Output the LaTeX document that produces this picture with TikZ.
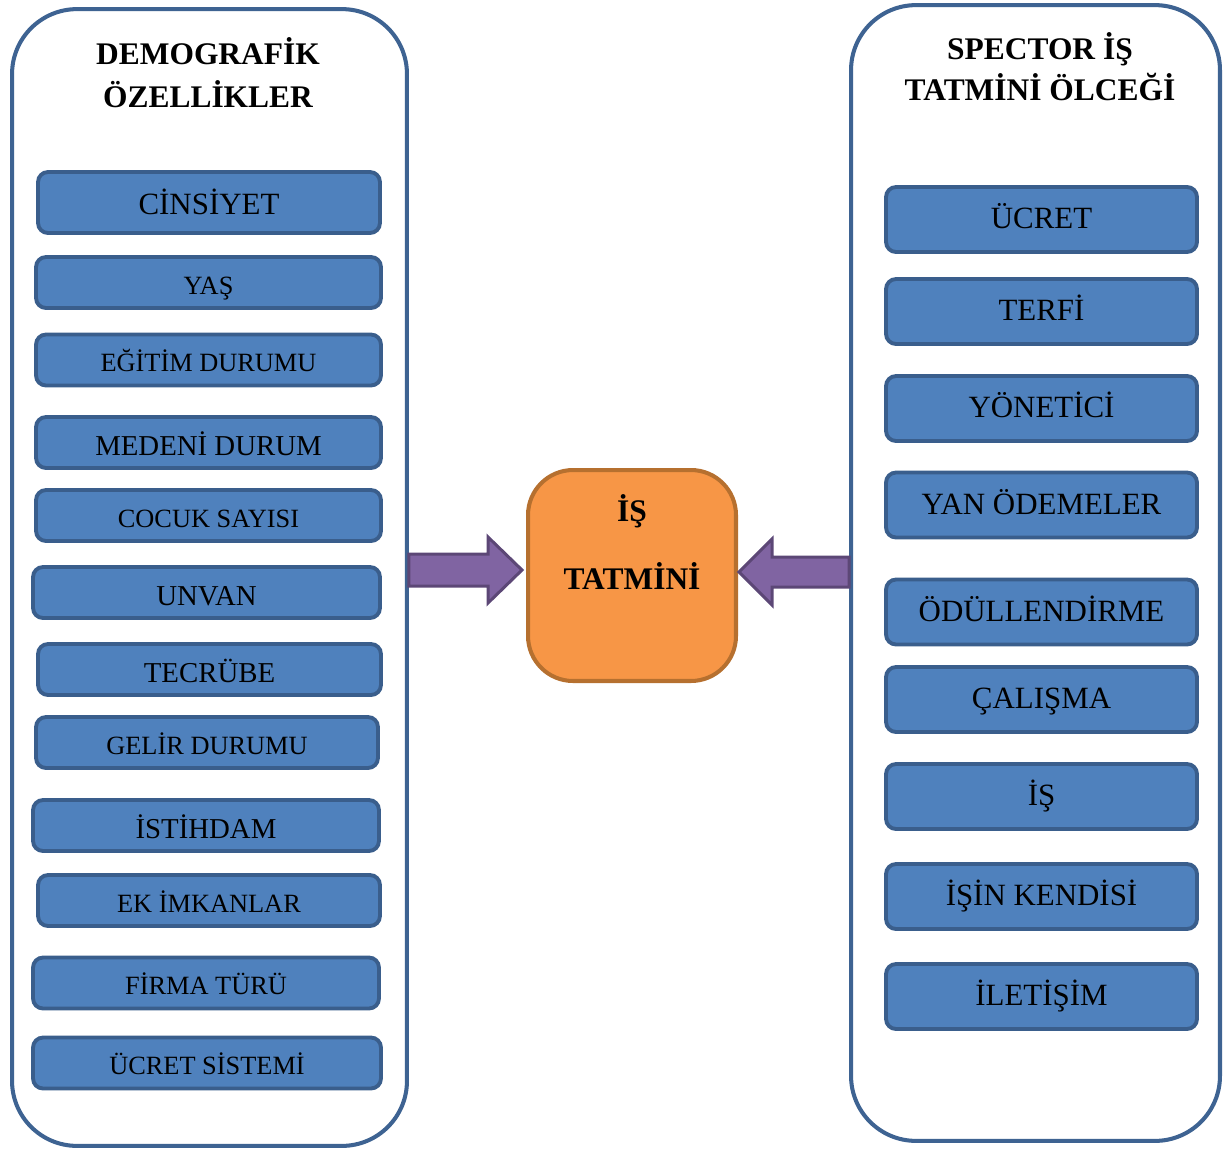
\documentclass[tikz,border=0pt]{standalone}
\usepackage{fontspec}
\setmainfont{Liberation Serif}
\usepackage{tikz}
\usetikzlibrary{calc}
\usetikzlibrary{positioning}
\definecolor{itemblue}{HTML}{4F81BD}
\definecolor{itemedge}{HTML}{3A5E8C}
\definecolor{paneledge}{HTML}{3E6392}
\definecolor{isfill}{HTML}{F79646}
\definecolor{isedge}{HTML}{B6702F}
\definecolor{arrowfill}{HTML}{8064A2}
\definecolor{arrowedge}{HTML}{5C4776}

\begin{document}
\begin{tikzpicture}[x=0.02cm, y=-0.02cm,
	panel_node/.style={draw=paneledge, fill=white, line width=2.3pt, rounded corners=1.3cm, inner sep=0pt},
	item_node/.style={draw=itemedge, fill=itemblue, line width=2.2pt, rounded corners=0.2cm, inner sep=0pt, minimum width=6.84cm, minimum height=1.02cm, text height=13.3pt, text depth=0pt, font=\fontsize{15}{18}\selectfont},
	mid_item/.style={text height=14.3pt, font=\fontsize{16.4}{19}\selectfont},
	big_item/.style={text height=13.4pt, font=\fontsize{17.6}{20}\selectfont},
	right_node/.style={item_node, minimum width=6.22cm, minimum height=1.3cm, text height=10.6pt, font=\fontsize{17.6}{20}\selectfont},
	head_text/.style={font=\bfseries\fontsize{17.9}{24.4}\selectfont, align=center},
	fat_arrow/.style={draw=arrowedge, fill=arrowfill, line width=1.7pt, line join=miter}]
	
	\useasboundingbox (0,0) rectangle (1229,1150);
	
	% the two panels
	\node[panel_node, minimum width=7.9cm, minimum height=22.74cm] (left) at (209.5, 577.5) {};
	\node[panel_node, minimum width=7.38cm, minimum height=22.72cm] (right) at (1035.5, 573) {};
	
	\node[head_text] (lhead) at (208, 73) {DEMOGRAFİK\\ÖZELLİKLER};
	\node[head_text, font=\bfseries\fontsize{17.9}{23.2}\selectfont] (rhead) at (1040, 67) {SPECTOR İŞ\\TATMİNİ ÖLCEĞİ};
	
	% demographic items
	\node[item_node, big_item, minimum height=1.22cm] (l1) at (209, 202.5) {CİNSİYET};
	\node[item_node, minimum width=6.9cm] (l2) at (208.5, 282.5) {YAŞ};
	\node[item_node, minimum width=6.9cm] (l3) at (208.5, 360) {EĞİTİM DURUMU};
	\node[item_node, mid_item, minimum width=6.9cm] (l4) at (208.5, 442.5) {MEDENİ DURUM};
	\node[item_node, minimum width=6.9cm] (l5) at (208.5, 515.5) {COCUK SAYISI};
	\node[item_node, mid_item, minimum width=6.94cm] (l6) at (206.5, 592.5) {UNVAN};
	\node[item_node, mid_item, minimum width=6.86cm] (l7) at (209.5, 669.5) {TECRÜBE};
	\node[item_node] (l8) at (207, 742.5) {GELİR DURUMU};
	\node[item_node, mid_item, minimum width=6.92cm] (l9) at (206, 825.5) {İSTİHDAM};
	\node[item_node] (l10) at (209, 900.5) {EK İMKANLAR};
	\node[item_node, minimum width=6.92cm] (l11) at (206, 983) {FİRMA TÜRÜ};
	\node[item_node, minimum width=6.96cm] (l12) at (207, 1063) {ÜCRET SİSTEMİ};
	
	% scale items
	\node[right_node] (r1) at (1041.5, 219.5) {ÜCRET};
	\node[right_node] (r2) at (1041.5, 311.5) {TERFİ};
	\node[right_node] (r3) at (1041.5, 408.5) {YÖNETİCİ};
	\node[right_node] (r4) at (1041.5, 505) {YAN ÖDEMELER};
	\node[right_node] (r5) at (1041.5, 612) {ÖDÜLLENDİRME};
	\node[right_node] (r6) at (1041.5, 699.5) {ÇALIŞMA};
	\node[right_node] (r7) at (1041.5, 796.5) {İŞ};
	\node[right_node] (r8) at (1041.5, 896.5) {İŞİN KENDİSİ};
	\node[right_node] (r9) at (1041.5, 996.5) {İLETİŞİM};
	
	% centre box
	\node[draw=isedge, fill=isfill, line width=2.3pt, rounded corners=0.9cm, minimum width=4.16cm, minimum height=4.22cm] (is) at (632, 575.5) {};
	\node[head_text, font=\bfseries\fontsize{17.9}{38.5}\selectfont] (istext) at (632, 542) {İŞ\\TATMİNİ};
	
	% fat arrows
	\coordinate (la) at ($(left.east)+(0,-7.5)$);
	\coordinate (lb) at ($(is.west |- la)+(-4,0)$);
	\draw[fat_arrow] ($(la)+(0,-16)$) -- ($(lb)+(-34,-16)$) -- ($(lb)+(-34,-33)$) -- (lb)
		-- ($(lb)+(-34,33)$) -- ($(lb)+(-34,16)$) -- ($(la)+(0,16)$) -- cycle;
	\coordinate (ra) at ($(right.west |- is.east)+(0,-3.5)$);
	\coordinate (rb) at ($(is.east |- ra)+(1,0)$);
	\draw[fat_arrow] ($(ra)+(0,-15)$) -- ($(rb)+(33,-15)$) -- ($(rb)+(33,-33)$) -- (rb)
		-- ($(rb)+(33,33)$) -- ($(rb)+(33,15)$) -- ($(ra)+(0,15)$) -- cycle;
\end{tikzpicture}
\end{document}
